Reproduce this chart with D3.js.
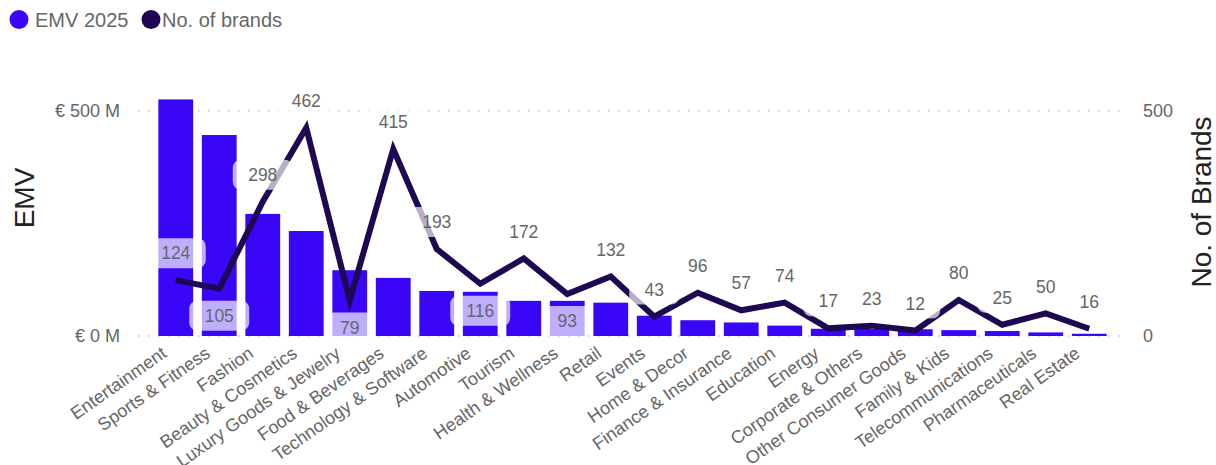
<!DOCTYPE html>
<html>
<head>
<meta charset="utf-8">
<script src="https://cdn.jsdelivr.net/npm/d3@7/dist/d3.min.js"></script>
<style>
  html, body { margin: 0; padding: 0; background: #fff; }
  svg { display: block; font-family: "Liberation Sans", Arial, sans-serif; }
</style>
</head>
<body>
<svg id="chart" width="1216" height="465"></svg>
<script>
// Industry categories
const categories = [
  "Entertainment", "Sports & Fitness", "Fashion", "Beauty & Cosmetics",
  "Luxury Goods & Jewelry", "Food & Beverages", "Technology & Software",
  "Automotive", "Tourism", "Health & Wellness", "Retail", "Events",
  "Home & Decor", "Finance & Insurance", "Education", "Energy",
  "Corporate & Others", "Other Consumer Goods", "Family & Kids",
  "Telecommunications", "Pharmaceuticals", "Real Estate"
];
// EMV 2025 in millions of euros
const emv = [525, 446, 271, 233, 146, 129, 100, 98, 78, 78, 74, 45, 35, 30, 23, 16, 16, 15, 13, 11, 8, 5];
// Number of brands per category
const brands = [124, 105, 298, 462, 79, 415, 193, 116, 172, 93, 132, 43, 96, 57, 74, 17, 23, 12, 80, 25, 50, 16];
// Axis ticks
const emvTicks = [0, 500];
const brandTicks = [0, 500];

const barColor = "#3A06F7";
const lineColor = "#1E0852";
const textGray = "#666666";

const svg = d3.select("#chart");

const x = d3.scaleBand().domain(categories).range([154, 1111]).paddingInner(0.2).paddingOuter(0.1);
const yL = d3.scaleLinear().domain([0, 500]).range([336, 110.7]);
const yR = d3.scaleLinear().domain([0, 500]).range([336, 110.7]);

// dotted gridlines
svg.append("g").selectAll("line").data(emvTicks).join("line")
  .attr("x1", 138).attr("x2", 1128)
  .attr("y1", d => yL(d)).attr("y2", d => yL(d))
  .attr("stroke", "#bdbdbd").attr("stroke-width", 1.5)
  .attr("stroke-dasharray", "1.5,8.5");

// left axis labels
const leftAxis = d3.axisLeft(yL).tickValues(emvTicks).tickSize(0).tickPadding(0)
  .tickFormat(d => "€ " + d + " M");
svg.append("g").attr("transform", "translate(120,0)").call(leftAxis)
  .call(g => g.select(".domain").remove())
  .call(g => g.selectAll("text").attr("fill", textGray).attr("font-size", 18)
    .attr("font-family", "Liberation Sans, Arial, sans-serif"));

// right axis labels
const rightAxis = d3.axisRight(yR).tickValues(brandTicks).tickSize(0).tickPadding(0);
svg.append("g").attr("transform", "translate(1143,0)").call(rightAxis)
  .call(g => g.select(".domain").remove())
  .call(g => g.selectAll("text").attr("fill", textGray).attr("font-size", 18)
    .attr("font-family", "Liberation Sans, Arial, sans-serif"));

// axis titles
svg.append("text").attr("transform", "translate(34,198) rotate(-90)")
  .attr("text-anchor", "middle").attr("font-size", 28).attr("fill", "#222")
  .text("EMV");
svg.append("text").attr("transform", "translate(1211,202) rotate(-90)")
  .attr("text-anchor", "middle").attr("font-size", 28).attr("fill", "#222")
  .text("No. of Brands");

// bars
svg.append("g").selectAll("rect").data(categories).join("rect")
  .attr("x", d => x(d))
  .attr("width", x.bandwidth())
  .attr("y", (d, i) => yL(emv[i]))
  .attr("height", (d, i) => yL(0) - yL(emv[i]))
  .attr("fill", barColor);

// x category labels
svg.append("g").selectAll("text").data(categories).join("text")
  .attr("transform", d => `translate(${x(d) + x.bandwidth() / 2 - 8},356) rotate(-35)`)
  .attr("text-anchor", "end").attr("font-size", 18).attr("fill", textGray)
  .text(d => d);

// brands line
const cx = d => x(d) + x.bandwidth() / 2;
const line = d3.line().x((d, i) => cx(categories[i])).y(d => yR(d));
svg.append("path").datum(brands)
  .attr("d", line).attr("fill", "none")
  .attr("stroke", lineColor).attr("stroke-width", 6);

// data labels: below local minima when room allows, otherwise above
const offset = 27;
const labels = brands.map((v, i) => {
  const py = yR(v);
  const prev = i > 0 ? brands[i - 1] : Infinity;
  const next = i < brands.length - 1 ? brands[i + 1] : Infinity;
  const isMin = v < prev && v < next && i > 0;
  const below = isMin && (py + offset + 8 <= yR(0) + 1);
  return { v, x: cx(categories[i]), y: below ? py + offset : py - offset };
});
const lg = svg.append("g").selectAll("g").data(labels).join("g")
  .attr("transform", d => `translate(${d.x},${d.y})`);
lg.append("rect")
  .attr("x", d => -(String(d.v).length * 5 + 15))
  .attr("width", d => String(d.v).length * 10 + 30)
  .attr("y", -15).attr("height", 30).attr("rx", 8)
  .attr("fill", "#fff").attr("fill-opacity", 0.68);
lg.append("text").attr("text-anchor", "middle").attr("dy", "0.35em")
  .attr("font-size", 17.5).attr("fill", textGray)
  .text(d => d.v);

// legend
const legend = [
  { name: "EMV 2025", color: barColor, cx: 19, tx: 35 },
  { name: "No. of brands", color: lineColor, cx: 151, tx: 162 }
];
const lgd = svg.append("g").selectAll("g").data(legend).join("g");
lgd.append("circle").attr("cx", d => d.cx).attr("cy", 19.5).attr("r", 9.5).attr("fill", d => d.color);
lgd.append("text").attr("x", d => d.tx).attr("y", 26.7)
  .attr("font-size", 20).attr("fill", textGray).text(d => d.name);
</script>
</body>
</html>
